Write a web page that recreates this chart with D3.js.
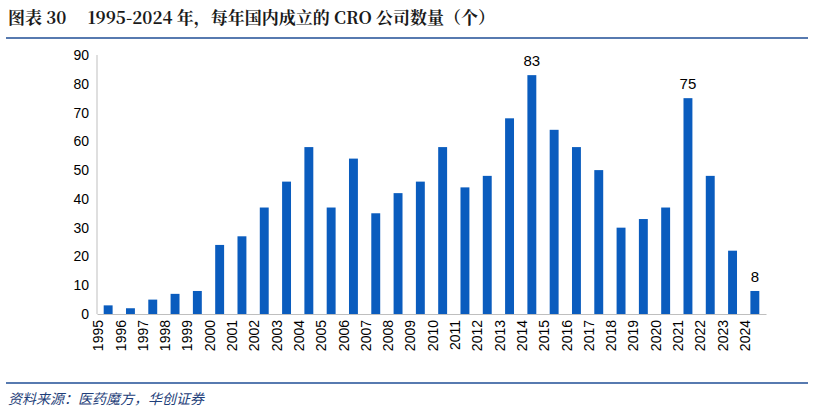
<!DOCTYPE html>
<html><head><meta charset="utf-8">
<script src="https://cdn.jsdelivr.net/npm/d3@7"></script>
<style>body{margin:0;background:#fff}</style>
</head><body>
<script>
var years = d3.range(1995, 2025).map(String)
var counts = [3,2,5,7,8,24,27,37,46,58,37,54,35,42,46,58,44,48,68,83,64,58,50,30,33,37,75,48,22,8]
var labelled = ["2014","2021","2024"]
var yTicks = [0,10,20,30,40,50,60,70,80,90]

var W = 814, H = 415
var svg = d3.select("body").append("svg").attr("width", W).attr("height", H)
var font = "'Liberation Sans', Arial, sans-serif"

svg.append("text").attr("x", 8).attr("y", 24)
  .style("font-family", "'Noto Serif CJK SC','Liberation Serif','Noto Sans CJK SC',serif")
  .style("font-weight", "bold").style("font-size", "17px").style("fill", "#1a1a1a")
  .text("图表 30　 1995-2024 年，每年国内成立的 CRO 公司数量（个）")
svg.append("line").attr("x1", 6).attr("x2", 808).attr("y1", 38).attr("y2", 38)
  .style("stroke", "#1f4e96").style("stroke-width", 1.5)
svg.append("line").attr("x1", 6).attr("x2", 808).attr("y1", 383).attr("y2", 383)
  .style("stroke", "#1f4e96").style("stroke-width", 1.5)
svg.append("text").attr("x", 8).attr("y", 404)
  .style("font-family", "'Noto Sans CJK SC',sans-serif").style("font-style", "italic")
  .style("font-size", "14px").style("fill", "#1f3f7a")
  .text("资料来源：医药魔方，华创证券")

var x = d3.scaleBand().domain(years).range([97, 766]).paddingInner(0.6).paddingOuter(0.3)
var y = d3.scaleLinear().domain([0, 90]).range([314, 55])

var ya = svg.append("g").attr("transform", "translate(97,0)")
  .call(d3.axisLeft(y).tickValues(yTicks).tickSize(0).tickPadding(8))
ya.select(".domain").remove()
ya.selectAll("text").style("font-family", font).style("font-size", "14px").style("fill", "#000")
svg.append("line").attr("x1", 97).attr("x2", 97).attr("y1", 55).attr("y2", 314).style("stroke", "#bfbfbf")

var xa = svg.append("g").attr("transform", "translate(0,314)")
  .call(d3.axisBottom(x).tickSize(0).tickPadding(6))
xa.select(".domain").style("stroke", "#bfbfbf")
xa.selectAll("text").style("font-family", font).style("font-size", "14px").style("fill", "#000")
  .attr("text-anchor", "end").attr("transform", "rotate(-90)").attr("dx", "-6").attr("dy", "-0.35em")
  .attr("y", 0)

svg.selectAll(".bar").data(years).enter().append("rect")
  .attr("x", function(d){ return x(d) }).attr("width", x.bandwidth())
  .attr("y", function(d, i){ return y(counts[i]) })
  .attr("height", function(d, i){ return 314 - y(counts[i]) })
  .style("fill", "#0a5cbe")

svg.selectAll(".lbl").data(years.filter(function(d){ return labelled.indexOf(d) >= 0 })).enter().append("text")
  .attr("x", function(d){ return x(d) + x.bandwidth()/2 })
  .attr("y", function(d){ return y(counts[years.indexOf(d)]) - 9 })
  .attr("text-anchor", "middle").style("font-family", font).style("font-size", "15px")
  .text(function(d){ return counts[years.indexOf(d)] })
</script>
</body></html>
